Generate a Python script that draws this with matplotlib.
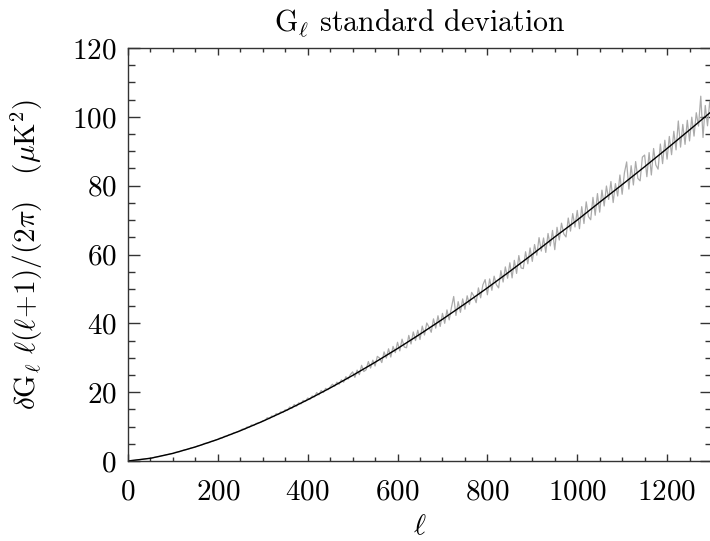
import matplotlib
matplotlib.use("Agg")
import matplotlib.pyplot as plt
import numpy as np
from matplotlib.ticker import MultipleLocator

ell_mean = np.arange(0, 1301, 50)
gl_mean = [0.0, 0.79, 2.22, 4.09, 6.29, 8.79, 11.55, 14.56, 17.79, 21.22,
           24.86, 28.68, 32.68, 36.85, 41.18, 45.67, 50.31, 55.10, 60.03,
           65.10, 70.0, 75.2, 80.3, 85.5, 90.8, 96.2, 101.7]

# curva ruidosa (cinza), lida a cada 5 em l
ell_sim = np.arange(0, 1301, 5)
gl_sim = [
    0.0, 0.1, 0.15, 0.2, 0.3, 0.35, 0.45, 0.55, 0.65, 0.75,
    0.8, 0.9, 1.1, 1.2, 1.3, 1.5, 1.6, 1.8, 1.9, 2.1,
    2.2, 2.5, 2.6, 2.7, 3.0, 3.2, 3.3, 3.5, 3.8, 3.9,
    4.1, 4.4, 4.5, 4.7, 5.1, 5.2, 5.3, 5.7, 5.8, 6.1,
    6.3, 6.7, 6.7, 7.2, 7.2, 7.7, 7.7, 8.2, 8.3, 8.5,
    8.9, 9.3, 9.2, 9.9, 9.8, 10.5, 10.3, 10.9, 11.1, 11.2,
    11.7, 11.8, 12.6, 12.3, 13.1, 12.9, 13.8, 13.5, 14.3, 14.1,
    14.9, 14.7, 15.7, 15.3, 16.4, 15.9, 16.9, 16.6, 17.6, 17.3,
    18.3, 17.9, 18.9, 18.6, 19.9, 19.2, 20.5, 19.9, 21.1, 20.7,
    21.5, 22.3, 21.7, 22.9, 22.3, 23.6, 22.9, 24.5, 23.8, 25.1,
    25.9, 24.3, 26.4, 25.1, 27.8, 26.0, 26.5, 28.9, 27.0, 29.3,
    27.6, 30.4, 29.9, 28.6, 31.7, 29.9, 32.6, 30.2, 33.3, 31.5,
    34.5, 32.0, 35.4, 33.1, 32.9, 36.5, 34.0, 37.5, 35.0, 38.0,
    35.3, 39.2, 36.6, 40.1, 38.9, 37.4, 41.3, 38.6, 42.2, 39.1,
    42.9, 40.0, 43.9, 41.0, 44.6, 47.8, 42.3, 46.3, 43.2, 47.1,
    44.1, 48.0, 45.5, 49.0, 47.9, 46.0, 50.3, 47.4, 51.2, 52.7,
    48.3, 52.9, 49.6, 53.7, 51.2, 50.3, 55.3, 52.0, 56.4, 53.1,
    57.6, 53.2, 58.3, 54.5, 59.7, 56.1, 55.9, 60.8, 57.3, 61.9,
    58.0, 62.9, 59.8, 64.9, 61.0, 64.8, 60.6, 66.1, 62.5, 67.0,
    61.4, 67.9, 64.2, 69.1, 66.0, 65.1, 70.6, 66.8, 71.9, 68.0,
    72.8, 67.5, 73.9, 69.0, 75.3, 71.0, 70.1, 76.6, 71.4, 77.7,
    72.3, 78.7, 74.1, 79.9, 76.0, 81.2, 75.1, 80.6, 77.0, 83.1,
    77.5, 83.7, 86.9, 79.0, 85.8, 80.2, 87.0, 82.1, 81.4, 88.3,
    88.9, 82.6, 89.6, 83.1, 90.8, 86.0, 84.8, 92.1, 86.4, 93.2,
    87.7, 94.3, 89.0, 95.8, 90.4, 98.8, 91.2, 97.8, 92.0, 99.0,
    93.0, 99.9, 94.4, 101.2, 97.3, 106.0, 94.0, 103.3, 97.4, 104.5,
    99.3,
]

plt.rcParams['font.family'] = 'cmr10'
plt.rcParams['mathtext.fontset'] = 'cm'
plt.rcParams['axes.unicode_minus'] = False
plt.rcParams['axes.formatter.use_mathtext'] = True

fig = plt.figure(figsize=(7.10, 5.41), dpi=100)
ax = fig.add_axes([128/710, 80/541, 584/710, 413/541])

ax.plot(ell_sim, gl_sim, color='#ababab', lw=0.9)
ax.plot(ell_mean, gl_mean, color='black', lw=1.0)

ax.set_xlim(0, 1300)
ax.set_ylim(0, 120)
ax.xaxis.set_major_locator(MultipleLocator(200))
ax.xaxis.set_minor_locator(MultipleLocator(50))
ax.yaxis.set_major_locator(MultipleLocator(20))
ax.yaxis.set_minor_locator(MultipleLocator(5))

cor = '#333333'
for s in ax.spines.values():
    s.set_color(cor)
    s.set_linewidth(1.0)
ax.tick_params(axis='both', which='both', direction='in', top=True, right=True,
               color=cor, width=1.0, labelsize=21)
ax.tick_params(axis='x', which='major', length=5, pad=13)
ax.tick_params(axis='x', which='minor', length=3)
ax.tick_params(axis='y', which='major', length=8.6, pad=8)
ax.tick_params(axis='y', which='minor', length=5)

ax.set_title(r"G$_\ell$ standard deviation", fontsize=21.5, pad=12)
ax.set_xlabel(r"$\ell$", fontsize=21, labelpad=6)
ax.set_ylabel(r"$\delta\mathrm{G}_\ell\ \ell(\ell\!+\!1)/(2\pi)\quad(\mu\mathrm{K}^2)$",
              fontsize=21, labelpad=20)

fig.savefig("out.png", dpi=100)
